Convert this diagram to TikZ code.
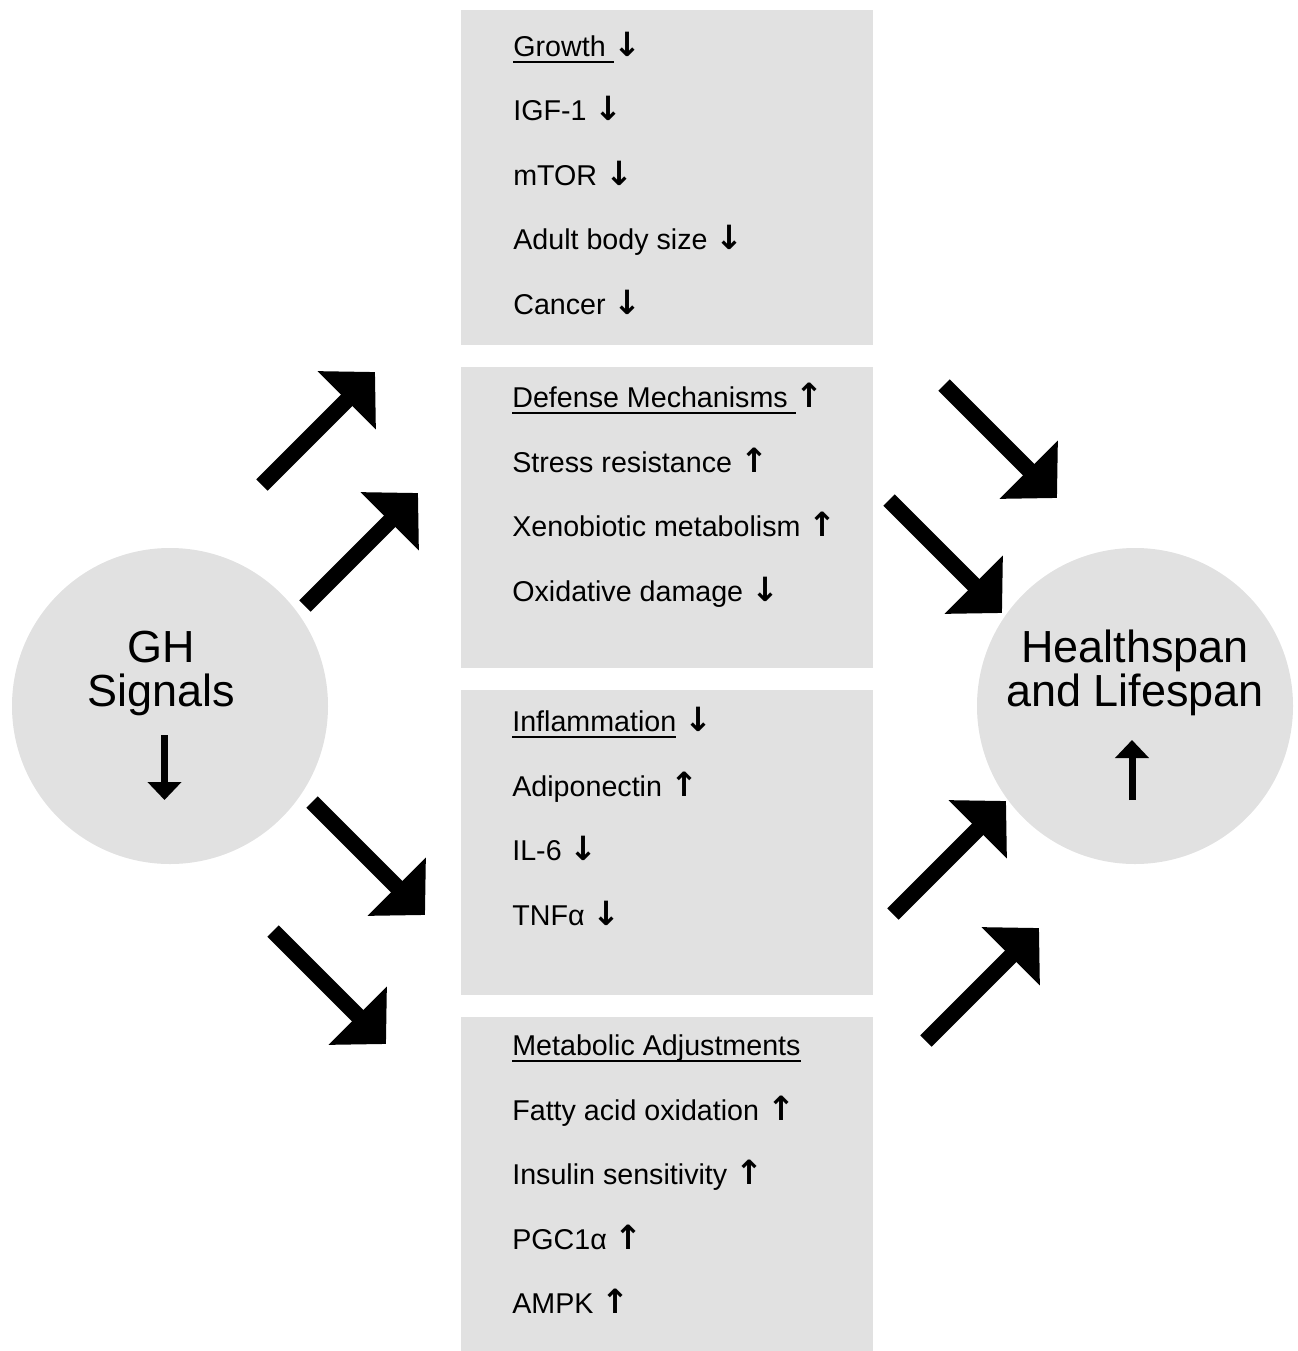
\documentclass[tikz,border=0pt]{standalone}
\usepackage{fontspec}
\setmainfont{Liberation Sans}
\newfontfamily\symfont{DejaVu Sans}
\usetikzlibrary{arrows.meta}
\definecolor{panelgray}{HTML}{E1E1E1}
\newsavebox\ttlbox
\newcommand\ttl[1]{\sbox\ttlbox{#1}\rlap{\rule[-1.3mm]{\wd\ttlbox}{0.4mm}}\usebox\ttlbox}
\newcommand\arrdn{{\symfont\bfseries\fontsize{19}{19}\selectfont ↓}}
\newcommand\arrup{{\symfont\bfseries\fontsize{19}{19}\selectfont ↑}}

\begin{document}
\begin{tikzpicture}[x=0.2mm,y=-0.2mm,
  panel/.style={fill=panelgray,minimum width=82.4mm,anchor=north west,inner sep=0pt},
  item/.style={anchor=base west,inner sep=0pt,font=\fontsize{16.3}{19}\selectfont},
  blob/.style={circle,fill=panelgray,minimum size=63.2mm,inner sep=0pt},
  big/.style={align=center,inner sep=0pt,font=\fontsize{25.6}{25}\selectfont},
  fat/.style={line width=3.2mm,-{Triangle[length=8mm,width=16mm]}},
  trend/.style={line width=1.4mm,-{Triangle[length=3.6mm,width=6.6mm]}}]
  \useasboundingbox (0,0) rectangle (1297,1351);
  % boxes
  \node[panel,minimum height=67mm] (growth) at (461,10) {};
  \node[panel,minimum height=60.2mm] (defense) at (461,367) {};
  \node[panel,minimum height=61mm] (inflam) at (461,690) {};
  \node[panel,minimum height=66.8mm] (metab) at (461,1017) {};
  % box texts
  \foreach \t [count=\i] in {{\ttl{Growth\ }\arrdn},{IGF-1 \arrdn},{mTOR \arrdn},{Adult body size \arrdn},{Cancer \arrdn}}
    \node[item] (gr\i) at (513,{56+64.5*(\i-1)}) {\t};
  \foreach \t [count=\i] in {{\ttl{Defense Mechanisms\ }\arrup},{Stress resistance \arrup},{Xenobiotic metabolism \arrup},{Oxidative damage \arrdn}}
    \node[item] (df\i) at (512,{407.5+64.5*(\i-1)}) {\t};
  \foreach \t [count=\i] in {{\ttl{Inflammation}\ \arrdn},{Adiponectin \arrup},{IL-6 \arrdn},{TNFα \arrdn}}
    \node[item] (in\i) at (512,{731.5+64.5*(\i-1)}) {\t};
  \foreach \t [count=\i] in {{\ttl{Metabolic Adjustments}},{Fatty acid oxidation \arrup},{Insulin sensitivity \arrup},{PGC1α \arrup},{AMPK \arrup}}
    \node[item] (mt\i) at (512,{1055.5+64.5*(\i-1)}) {\t};
  % circles
  \node[blob] (gh) at (170,706) {};
  \node[big] (ghtxt) at (161,673) {GH\\Signals};
  \draw[trend] ([shift={(-5.5,29)}]gh.center) -- ([shift={(-5.5,94)}]gh.center);
  \node[blob] (life) at (1135,706) {};
  \node[big] (lifetxt) at (1135,673) {Healthspan\\and Lifespan};
  \draw[trend] ([shift={(-3,94)}]life.center) -- ([shift={(-3,34)}]life.center);
  % big arrows
  \foreach \n/\tx/\ty/\s in {a1/375/372/1,a2/418/493/1,a3/425/915/-1,a4/386/1044/-1,b1/1057/498/-1,b2/1002/613/-1,b3/1006/801/1,b4/1039/928/1}{
    \coordinate (s\n) at (\tx-113,{\ty+113*\s});
    \coordinate (e\n) at (\tx,\ty);
    \draw[fat] (s\n) -- (e\n);
  }
\end{tikzpicture}
\end{document}
